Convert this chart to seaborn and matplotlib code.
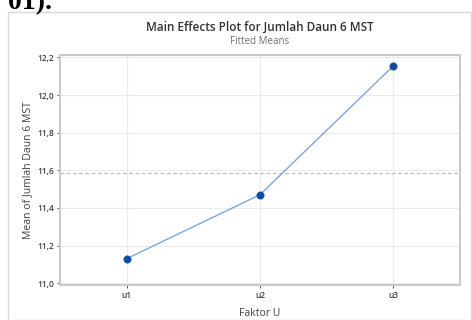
import matplotlib
matplotlib.use("Agg")
import matplotlib.pyplot as plt
import seaborn as sns
import pandas as pd
from matplotlib.patches import Rectangle

categories = ["u1", "u2", "u3"]
means = [11.13, 11.47, 12.155]
overall_mean = 11.585
yticks = [11.0, 11.2, 11.4, 11.6, 11.8, 12.0, 12.2]
ytick_labels = ["11,0", "11,2", "11,4", "11,6", "11,8", "12,0", "12,2"]

sns.set_theme(style="white")
plt.rcParams["font.family"] = ["Open Sans", "DejaVu Sans"]

df = pd.DataFrame({"Faktor U": categories, "Mean": means})

W, H = 472, 320
fig = plt.figure(figsize=(W / 100, H / 100), dpi=100)
ax = fig.add_axes([60 / W, 1 - 285 / H, 400 / W, 230 / H])

# outer frame of the chart image
fig.patches.append(Rectangle((8 / W, 0), 1 - 9 / W, 1 - 12 / H, transform=fig.transFigure,
                             fill=False, edgecolor="#d9d9d9", linewidth=1.0))
# clipped text from surrounding document
fig.text(8 / W, 1 - 9 / H, "01).", fontsize=20, family="Liberation Serif",
         fontweight="bold", va="baseline", ha="left", color="black")

ax.set_axisbelow(True)
ax.grid(True, color="#ebebeb", linewidth=0.8)
ax.axhline(overall_mean, color="#bdbdbd", linestyle=(0, (3, 2)), linewidth=0.9)
sns.lineplot(data=df, x="Faktor U", y="Mean", ax=ax, color="#7aa7da",
             linewidth=1.0, sort=False)
sns.scatterplot(data=df, x="Faktor U", y="Mean", ax=ax, color="#0b4ea2",
                s=28, edgecolor="#0b4ea2", zorder=5)

ax.set_xlim(-0.5, 2.5)
ax.set_ylim(10.99, 12.213)
ax.set_yticks(yticks)
ax.set_yticklabels(ytick_labels)
ax.tick_params(axis="both", labelsize=6, colors="#404040", length=2, width=0.6,
               left=True, bottom=True, pad=2)
for lab in ax.get_xticklabels() + ax.get_yticklabels():
    lab.set_fontweight("semibold")
for s in ax.spines.values():
    s.set_color("#c8c8c8")
    s.set_linewidth(1.4)

ax.set_xlabel("Faktor U", fontsize=7.5, color="#404040", labelpad=6)
ax.set_ylabel("Mean of Jumlah Daun 6 MST", fontsize=7.5, color="#404040", labelpad=3)

fig.text(260 / W, 1 - 27 / H, "Main Effects Plot for Jumlah Daun 6 MST", fontsize=8.5,
         ha="center", va="center", color="#333333", fontweight="semibold")
fig.text(260 / W, 1 - 41 / H, "Fitted Means", fontsize=7, ha="center", va="center",
         color="#707070")

fig.savefig("out.png", dpi=100)
